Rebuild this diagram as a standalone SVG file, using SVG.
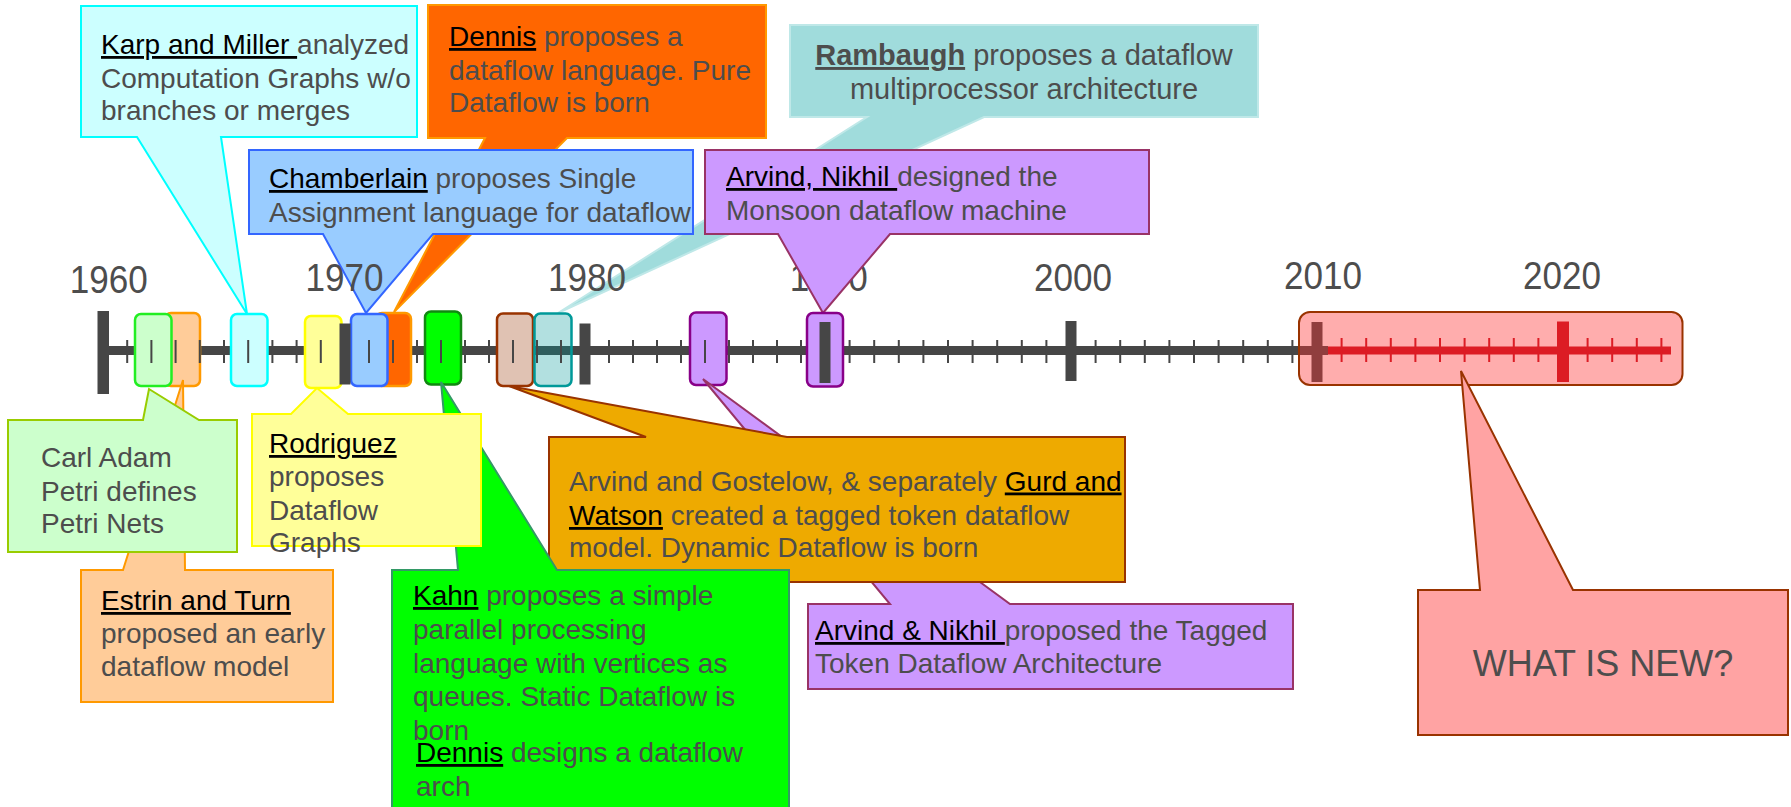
<svg xmlns="http://www.w3.org/2000/svg" width="1791" height="807" viewBox="0 0 1791 807">
  <style>
    text { font-family: "Liberation Sans", Arial, sans-serif; font-size: 28px; fill: #4d4d4d; }
    .name { fill: #000000; text-decoration: underline; }
    .year { font-size: 38px; text-anchor: middle; }
    .ramb { font-size: 29px; text-anchor: middle; }
    .big { font-size: 36px; text-anchor: middle; }
    .callout { stroke-width: 2; stroke-linejoin: miter; }
    .ev { stroke-width: 2.5; }
    .major { fill: #464646; }
    .minor { fill: none; stroke: #464646; stroke-width: 2; }
    .rminor { fill: none; stroke: #dc1c24; stroke-width: 2; }
  </style>

  <rect x="0" y="0" width="1791" height="807" fill="#ffffff"/>

  <!-- upper callouts drawn beneath the year labels -->
  <g id="callout-rambaugh">
    <polygon class="callout" points="790,25 1258,25 1258,117 984,117 558,313 867,117 790,117" fill="#a0dcdc" stroke="#bfe8e8" stroke-width="1.5"/>
    <text class="ramb" x="1024" y="65"><tspan font-weight="bold" text-decoration="underline">Rambaugh</tspan> proposes a dataflow</text>
    <text class="ramb" x="1024" y="99">multiprocessor architecture</text>
  </g>

  <g id="callout-dennis">
    <polygon class="callout" points="428,5 766,5 766,138 567,138 394,312 485,138 428,138" fill="#ff6600" stroke="#ff9900"/>
    <text x="449" y="46"><tspan class="name">Dennis</tspan> proposes a</text>
    <text x="449" y="80">dataflow language. Pure</text>
    <text x="449" y="112">Dataflow is born</text>
  </g>

  <g id="callout-chamberlain">
    <polygon class="callout" points="249,150 693,150 693,234 433,234 366,313 323,234 249,234" fill="#99ccff" stroke="#3366ff"/>
    <text x="269" y="188"><tspan class="name">Chamberlain</tspan> proposes Single</text>
    <text x="269" y="222">Assignment language for dataflow</text>
  </g>

  <g id="callout-karp">
    <polygon class="callout" points="81,6 417,6 417,137 221,137 247,314 137,137 81,137" fill="#ccffff" stroke="#00ffff"/>
    <text x="101" y="54"><tspan class="name">Karp and Miller </tspan>analyzed</text>
    <text x="101" y="88">Computation Graphs w/o</text>
    <text x="101" y="120">branches or merges</text>
  </g>

  <!-- decade labels -->
  <g id="years">
    <text class="year" x="108.7" y="293" textLength="78" lengthAdjust="spacingAndGlyphs">1960</text>
    <text class="year" x="344.5" y="291" textLength="78" lengthAdjust="spacingAndGlyphs">1970</text>
    <text class="year" x="587" y="291" textLength="78" lengthAdjust="spacingAndGlyphs">1980</text>
    <text class="year" x="828.7" y="291" textLength="78" lengthAdjust="spacingAndGlyphs">1990</text>
    <text class="year" x="1073" y="291" textLength="78" lengthAdjust="spacingAndGlyphs">2000</text>
    <text class="year" x="1323" y="289" textLength="78" lengthAdjust="spacingAndGlyphs">2010</text>
    <text class="year" x="1562" y="289" textLength="78" lengthAdjust="spacingAndGlyphs">2020</text>
  </g>

  <g id="callout-monsoon">
    <polygon class="callout" points="705,150 1149,150 1149,234 890,234 823,313 778,234 705,234" fill="#cc99ff" stroke="#993366"/>
    <text x="726" y="186"><tspan class="name">Arvind, Nikhil </tspan>designed the</text>
    <text x="726" y="220">Monsoon dataflow machine</text>
  </g>

  <!-- the timeline axis with its event markers -->
  <g id="timeline">
    <rect x="98" y="346" width="1230" height="9" fill="#464646"/>

    <g id="events">
      <rect id="ev-estrin" class="ev" x="165" y="313" width="35" height="73" rx="6" fill="#ffcc99" stroke="#ff9900"/>
      <rect id="ev-petri" class="ev" x="135" y="314" width="36.5" height="72" rx="6" fill="#ccffcc" stroke="#22ee22"/>
      <rect id="ev-karp" class="ev" x="231" y="314" width="36.5" height="72" rx="6" fill="#ccffff" stroke="#00ffff"/>
      <rect id="ev-rodriguez" class="ev" x="305" y="316" width="36.5" height="72" rx="6" fill="#ffff99" stroke="#ffff00"/>
      <rect id="ev-dennis" class="ev" x="376" y="313" width="35" height="73" rx="6" fill="#ff6600" stroke="#ff9900"/>
      <rect id="ev-chamberlain" class="ev" x="351" y="314" width="36.5" height="72" rx="6" fill="#99ccff" stroke="#3366ff"/>
      <rect id="ev-kahn" class="ev" x="425" y="311.5" width="36" height="73" rx="6" fill="#00ff00" stroke="#118811"/>
      <rect id="ev-gostelow" class="ev" x="497" y="313.5" width="36" height="72.5" rx="6" fill="#e0c2b3" stroke="#993300"/>
      <rect id="ev-rambaugh" class="ev" x="534.5" y="313.5" width="37" height="72.5" rx="6" fill="#009999" fill-opacity="0.3" stroke="#009999"/>
      <rect id="ev-ttda" class="ev" x="690" y="312.5" width="36.5" height="72.5" rx="6" fill="#cc99ff" stroke="#880088"/>
      <rect id="ev-monsoon" class="ev" x="807" y="313" width="36" height="73.5" rx="6" fill="#cc99ff" stroke="#880088"/>
    </g>

    <path class="minor" d="M127.2 340V363M151.4 340V363M175.6 340V363M199.8 340V363M224 340V363M248.2 340V363M272.4 340V363M296.6 340V363M320.8 340V363
      M369 340V363M393 340V363M417 340V363M441 340V363M465 340V363M489 340V363M513 340V363M537 340V363M561 340V363
      M609 340V363M633 340V363M657 340V363M681 340V363M705 340V363M729 340V363M753 340V363M777 340V363M801 340V363
      M849.6 340V363M874.2 340V363M898.8 340V363M923.4 340V363M948 340V363M972.6 340V363M997.2 340V363M1021.8 340V363M1046.4 340V363
      M1095.6 340V363M1120.2 340V363M1144.8 340V363M1169.4 340V363M1194 340V363M1218.6 340V363M1243.2 340V363M1267.8 340V363M1292.4 340V363"/>

    <rect class="major" x="97.5" y="311" width="11.5" height="83"/>
    <rect class="major" x="339.5" y="323.5" width="11" height="61"/>
    <rect class="major" x="579.5" y="323.5" width="11" height="61"/>
    <rect class="major" x="819.5" y="322" width="11" height="61"/>
    <rect class="major" x="1065.5" y="321" width="11" height="60"/>
    <rect class="major" x="1311.5" y="322" width="11" height="60"/>

    <!-- the current decade, highlighted -->
    <rect id="ev-now" x="1299" y="312" width="383.5" height="73" rx="11" fill="#ff3333" fill-opacity="0.4" stroke="#993300" stroke-width="2"/>
    <rect x="1328" y="346.5" width="343" height="8" fill="#dc1c24"/>
    <path class="rminor" d="M1341.6 338V362M1366.2 338V362M1390.8 338V362M1415.4 338V362M1440 338V362M1464.6 338V362M1489.2 338V362M1513.8 338V362M1538.4 338V362
      M1587.6 338V362M1612.2 338V362M1636.8 338V362M1661.4 338V362"/>
    <rect x="1557" y="321.5" width="12" height="60.5" fill="#dc1c24"/>
  </g>

  <!-- lower callouts -->
  <g id="callout-estrin">
    <polygon class="callout" points="81,570 123,570 183,380 185,570 333,570 333,702 81,702" fill="#ffcc99" stroke="#ff9900"/>
    <text x="101" y="610"><tspan class="name">Estrin and Turn</tspan></text>
    <text x="101" y="643">proposed an early</text>
    <text x="101" y="676">dataflow model</text>
  </g>

  <g id="callout-petri">
    <polygon class="callout" points="8,420 143,420 149,389 199,420 237,420 237,552 8,552" fill="#ccffcc" stroke="#99cc00"/>
    <text x="41" y="467">Carl Adam</text>
    <text x="41" y="501">Petri defines</text>
    <text x="41" y="533">Petri Nets</text>
  </g>

  <g id="callout-ttda">
    <polygon class="callout" points="808,604 890,604 703,379 1010,604 1293,604 1293,689 808,689" fill="#cc99ff" stroke="#993366"/>
    <text x="815" y="640"><tspan class="name">Arvind &amp; Nikhil </tspan>proposed the Tagged</text>
    <text x="815" y="673">Token Dataflow Architecture</text>
  </g>

  <g id="callout-gostelow">
    <polygon class="callout" points="549,437 646,437 509,386 787,437 1125,437 1125,582 549,582" fill="#eeaa00" stroke="#993300"/>
    <text x="569" y="490.5">Arvind and Gostelow, &amp; separately <tspan class="name">Gurd and</tspan></text>
    <text x="569" y="525"><tspan class="name">Watson</tspan> created a tagged token dataflow</text>
    <text x="569" y="557">model. Dynamic Dataflow is born</text>
  </g>

  <g id="callout-kahn">
    <polygon class="callout" points="392,570 458,570 441,382 557,570 789,570 789,812 392,812" fill="#00ff00" stroke="#339966"/>
    <text x="413" y="605"><tspan class="name">Kahn</tspan> proposes a simple</text>
    <text x="413" y="639">parallel processing</text>
    <text x="413" y="673">language with vertices as</text>
    <text x="413" y="706">queues. Static Dataflow is</text>
    <text x="413" y="739.5">born</text>
    <text x="416" y="762"><tspan class="name">Dennis</tspan> designs a dataflow</text>
    <text x="416" y="795.5">arch</text>
  </g>

  <g id="callout-rodriguez">
    <polygon class="callout" points="252,414 291,414 317,388 348,414 481,414 481,546 252,546" fill="#ffff99" stroke="#ffff00"/>
    <text x="269" y="453"><tspan class="name">Rodriguez</tspan></text>
    <text x="269" y="486">proposes</text>
    <text x="269" y="519.5">Dataflow</text>
    <text x="269" y="552">Graphs</text>
  </g>

  <g id="callout-new">
    <polygon class="callout" points="1418,590 1480,590 1461,371 1573,590 1788,590 1788,735 1418,735" fill="#ffa3a3" stroke="#993300"/>
    <text class="big" x="1603" y="676">WHAT IS NEW?</text>
  </g>
</svg>
